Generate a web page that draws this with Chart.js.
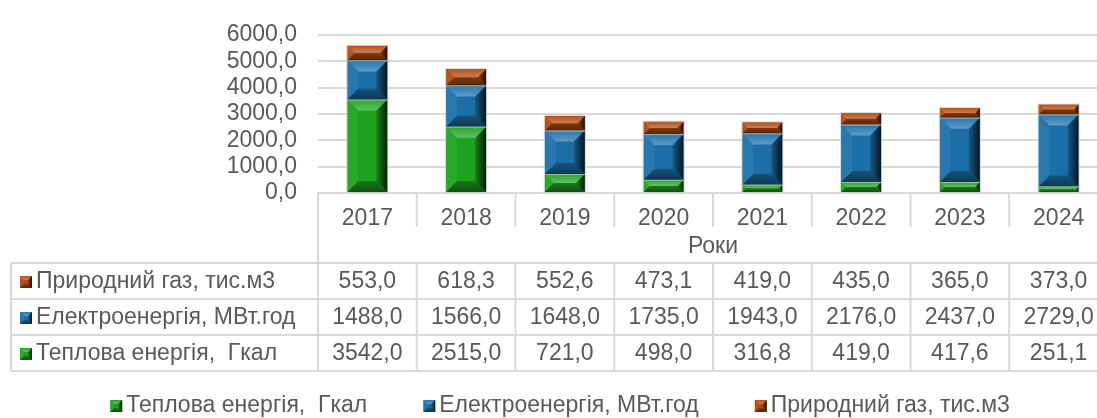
<!DOCTYPE html>
<html>
<head>
<meta charset="utf-8">
<script src="https://cdn.jsdelivr.net/npm/chart.js@4.4.1/dist/chart.umd.min.js"></script>
<style>
  html, body { margin: 0; padding: 0; background: #fff; overflow: hidden; }
  #wrap { position: relative; width: 1120px; height: 418px; }
</style>
</head>
<body>
<div id="wrap"><canvas id="chart"></canvas></div>
<script>
const years = ['2017', '2018', '2019', '2020', '2021', '2022', '2023', '2024'];
const heatValues = [3542.0, 2515.0, 721.0, 498.0, 316.8, 419.0, 417.6, 251.1];
const powerValues = [1488.0, 1566.0, 1648.0, 1735.0, 1943.0, 2176.0, 2437.0, 2729.0];
const gasValues = [553.0, 618.3, 552.6, 473.1, 419.0, 435.0, 365.0, 373.0];
const seriesNames = ['Теплова енергія,  Гкал', 'Електроенергія, МВт.год', 'Природний газ, тис.м3'];
const seriesColors = ['#1ea21e', '#1b6fa8', '#b04a10'];
const axisTitle = 'Роки';

const FONT = '"Liberation Sans", Arial, sans-serif';
const TEXT = '#595959';
const LINE = '#d9d9d9';

Chart.defaults.font.family = FONT;
Chart.defaults.font.size = 23;
Chart.defaults.color = TEXT;

const fmt = v => v.toFixed(1).replace('.', ',');

function poly(ctx, pts, fill) {
  ctx.beginPath();
  ctx.moveTo(pts[0][0], pts[0][1]);
  for (let i = 1; i < pts.length; i++) ctx.lineTo(pts[i][0], pts[i][1]);
  ctx.closePath();
  ctx.fillStyle = fill;
  ctx.fill();
}

// excel-ish bevelled box
function bevelRect(ctx, l, t, r, b, color, size) {
  const w = r - l, h = b - t;
  const s = Math.min(size, w / 2, h / 2);
  ctx.fillStyle = color;
  ctx.fillRect(l, t, w, h);
  poly(ctx, [[l, t], [l + s, t + s], [l + s, b - s], [l, b]], 'rgba(255,255,255,0.06)');
  const gr = ctx.createLinearGradient(r - s, 0, r, 0);
  gr.addColorStop(0, 'rgba(0,0,0,0.2)');
  gr.addColorStop(1, 'rgba(0,0,0,0.8)');
  poly(ctx, [[r, t], [r, b], [r - s, b - s], [r - s, t + s]], gr);
  const gt = ctx.createLinearGradient(0, t, 0, t + s);
  gt.addColorStop(0, 'rgba(255,255,255,0.05)');
  gt.addColorStop(1, 'rgba(255,255,255,0.3)');
  poly(ctx, [[l, t], [r, t], [r - s, t + s], [l + s, t + s]], gt);
  const gb = ctx.createLinearGradient(0, b - s, 0, b);
  gb.addColorStop(0, 'rgba(0,0,0,0.25)');
  gb.addColorStop(1, 'rgba(0,0,0,0.5)');
  poly(ctx, [[l, b], [r, b], [r - s, b - s], [l + s, b - s]], gb);
}

const bevelPlugin = {
  id: 'bevel',
  afterDatasetsDraw(chart) {
    const ctx = chart.ctx;
    ctx.save();
    chart.data.datasets.forEach((ds, i) => {
      chart.getDatasetMeta(i).data.forEach(el => {
        const p = el.getProps(['x', 'y', 'base', 'width'], true);
        const l = p.x - p.width / 2, r = p.x + p.width / 2;
        const t = Math.min(p.y, p.base), b = Math.max(p.y, p.base);
        bevelRect(ctx, l, t, r, b, ds.backgroundColor, 11);
        ctx.strokeStyle = 'rgba(200,200,200,0.7)';
        ctx.lineWidth = 1;
        ctx.strokeRect(l - 0.5, t - 0.5, r - l + 1, b - t + 1);
      });
    });
    ctx.restore();
  }
};

const tablePlugin = {
  id: 'dataTable',
  afterDraw(chart) {
    const { ctx, chartArea } = chart;
    const x = chart.scales.x;
    const half = (x.getPixelForValue(1) - x.getPixelForValue(0)) / 2;
    const edges = years.map((_, i) => x.getPixelForValue(i) - half);
    edges.push(x.getPixelForValue(years.length - 1) + half);

    const axisY = chartArea.bottom;
    const yearRowBottom = 227;
    const tableLeft = 11, tableTop = 263, rowH = 36;
    const rows = [
      { name: seriesNames[2], color: seriesColors[2], values: gasValues },
      { name: seriesNames[1], color: seriesColors[1], values: powerValues },
      { name: seriesNames[0], color: seriesColors[0], values: heatValues }
    ];
    const tableBottom = tableTop + rowH * rows.length;

    ctx.save();
    ctx.strokeStyle = LINE;
    ctx.lineWidth = 2;
    ctx.beginPath();
    // year row dividers
    for (let i = 1; i < edges.length; i++) {
      ctx.moveTo(edges[i], axisY);
      ctx.lineTo(edges[i], yearRowBottom);
    }
    ctx.moveTo(edges[0], axisY);
    ctx.lineTo(edges[0], tableBottom);
    // table grid
    for (let r = 0; r <= rows.length; r++) {
      const y = tableTop + r * rowH;
      ctx.moveTo(tableLeft, y);
      ctx.lineTo(chart.width, y);
    }
    ctx.moveTo(tableLeft, tableTop);
    ctx.lineTo(tableLeft, tableBottom);
    for (let i = 1; i < edges.length; i++) {
      ctx.moveTo(edges[i], tableTop);
      ctx.lineTo(edges[i], tableBottom);
    }
    ctx.stroke();

    ctx.font = '23px ' + FONT;
    ctx.fillStyle = TEXT;
    ctx.textBaseline = 'middle';

    // axis title
    ctx.textAlign = 'center';
    ctx.fillText(axisTitle, (chartArea.left + chartArea.right) / 2, 247);

    rows.forEach((row, r) => {
      const cy = tableTop + r * rowH + rowH / 2 + 1;
      bevelRect(ctx, 20, cy - 6, 32, cy + 6, row.color, 4);
      ctx.fillStyle = TEXT;
      ctx.textAlign = 'left';
      ctx.fillText(row.name, 36, cy);
      ctx.textAlign = 'center';
      row.values.forEach((v, i) => ctx.fillText(fmt(v), x.getPixelForValue(i), cy));
    });

    // legend
    const legendY = 406, box = 12, gap = 4, spacing = 56;
    const widths = seriesNames.map(n => box + gap + ctx.measureText(n).width);
    const total = widths.reduce((a, b) => a + b, 0) + spacing * (widths.length - 1);
    let lx = chart.width / 2 - total / 2;
    ctx.textAlign = 'left';
    seriesNames.forEach((n, i) => {
      bevelRect(ctx, lx, legendY - 6, lx + box, legendY + 6, seriesColors[i], 4);
      ctx.fillStyle = TEXT;
      ctx.fillText(n, lx + box + gap, legendY);
      lx += widths[i] + spacing;
    });
    ctx.restore();
  }
};

new Chart(document.getElementById('chart'), {
  type: 'bar',
  data: {
    labels: years,
    datasets: [
      { label: seriesNames[0], data: heatValues, backgroundColor: seriesColors[0] },
      { label: seriesNames[1], data: powerValues, backgroundColor: seriesColors[1] },
      { label: seriesNames[2], data: gasValues, backgroundColor: seriesColors[2] }
    ]
  },
  options: {
    responsive: true,
    maintainAspectRatio: false,
    animation: false,
    layout: { padding: { top: 27, right: 12, bottom: 0, left: 0 } },
    datasets: { bar: { barPercentage: 0.405, categoryPercentage: 1 } },
    scales: {
      x: {
        stacked: true,
        grid: { display: false },
        border: { display: true, color: LINE, width: 2 },
        ticks: { padding: 4, maxRotation: 0, autoSkip: false },
        afterFit: s => { s.height = 225; }
      },
      y: {
        stacked: true,
        min: 0,
        max: 6000,
        grid: { color: LINE, lineWidth: 2, drawTicks: false },
        border: { display: false },
        ticks: { stepSize: 1000, padding: 21, autoSkip: false, callback: v => fmt(v) },
        afterFit: s => { s.width = 318; }
      }
    },
    plugins: {
      legend: { display: false },
      tooltip: { enabled: false }
    }
  },
  plugins: [bevelPlugin, tablePlugin]
});
</script>
</body>
</html>
